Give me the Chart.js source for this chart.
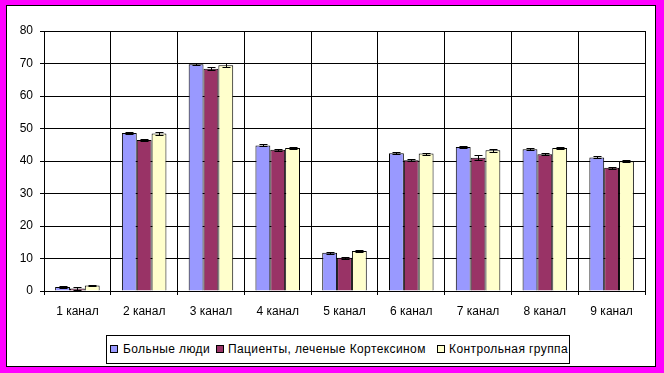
<!DOCTYPE html>
<html>
<head>
<meta charset="utf-8">
<script src="https://cdn.jsdelivr.net/npm/chart.js@4"></script>
<style>
  html, body { margin: 0; padding: 0; width: 664px; height: 373px; overflow: hidden; background: #FF00FF; }
  #panel { position: absolute; left: 6px; top: 5px; width: 650px; height: 362px; box-sizing: border-box; border: 1px solid #000; background: #fff; }
  #c { position: absolute; left: 0; top: 0; }
  #legend { position: absolute; left: 106px; top: 335px; width: 464px; height: 29px; box-sizing: border-box; border: 1px solid #000; background: #fff;
            font-family: "Liberation Sans", Arial, sans-serif; font-size: 12px; color: #000; white-space: nowrap; }
  .sw { position: absolute; top: 9px; width: 6px; height: 6px; border: 1px solid #000; }
  .tx { position: absolute; top: 5px; line-height: 16px; letter-spacing: 0.4px; }
</style>
</head>
<body>
<div id="panel"></div>
<canvas id="c" width="664" height="373"></canvas>
<div id="legend"></div>
<script>
const categories = ['1 канал', '2 канал', '3 канал', '4 канал', '5 канал', '6 канал', '7 канал', '8 канал', '9 канал'];
const seriesNames = ['Больные люди', 'Пациенты, леченые Кортексином', 'Контрольная группа'];
const sick    = [1.2, 48.6, 69.8, 44.8, 11.8, 42.4, 44.3, 43.6, 41.1];
const treated = [0.8, 46.5, 68.4, 43.5, 10.2, 40.2, 41.0, 42.1, 37.9];
const control = [1.7, 48.5, 69.5, 44.0, 12.3, 42.3, 43.3, 44.0, 39.9];
const sickErr    = [0.2, 0.3, 0.3, 0.3, 0.3, 0.3, 0.3, 0.3, 0.3];
const treatedErr = [0.4, 0.3, 0.4, 0.3, 0.3, 0.3, 0.7, 0.4, 0.3];
const controlErr = [0.2, 0.4, 0.6, 0.3, 0.4, 0.3, 0.4, 0.4, 0.3];
const yTicks = [0, 10, 20, 30, 40, 50, 60, 70, 80];
const colors = ['#9999FF', '#993366', '#FFFFCC'];

const errs = [sickErr, treatedErr, controlErr];
const FONT = { family: '"Liberation Sans", Arial, sans-serif', size: 12 };

const errorBars = {
  id: 'errorBars',
  afterDatasetsDraw(chart) {
    const ctx = chart.ctx;
    const ys = chart.scales.y;
    ctx.save();
    ctx.strokeStyle = '#000';
    ctx.lineWidth = 1;
    chart.data.datasets.forEach((ds, di) => {
      const meta = chart.getDatasetMeta(di);
      meta.data.forEach((el, i) => {
        const v = ds.data[i], e = errs[di][i];
        const x = Math.round(el.x) + 0.5;
        const y1 = Math.round(ys.getPixelForValue(v + e)) + 0.5;
        const y2 = Math.round(ys.getPixelForValue(v - e)) + 0.5;
        ctx.beginPath();
        ctx.moveTo(x, y1); ctx.lineTo(x, y2);
        ctx.moveTo(x - 4, y1); ctx.lineTo(x + 4, y1);
        ctx.moveTo(x - 4, y2); ctx.lineTo(x + 4, y2);
        ctx.stroke();
      });
    });
    ctx.restore();
  }
};

new Chart(document.getElementById('c'), {
  type: 'bar',
  data: {
    labels: categories,
    datasets: [sick, treated, control].map((d, i) => ({
      label: seriesNames[i],
      data: d,
      backgroundColor: colors[i],
      borderColor: '#000',
      borderWidth: 1,
      categoryPercentage: 0.667,
      barPercentage: 1.0
    }))
  },
  options: {
    responsive: false,
    animation: false,
    events: [],
    layout: { padding: { top: 31, right: 19, left: 0, bottom: 0 } },
    plugins: { legend: { display: false }, tooltip: { enabled: false } },
    scales: {
      x: {
        offset: true,
        grid: { offset: true, color: '#000', lineWidth: 1, tickLength: 4, drawTicks: true },
        border: { color: '#000' },
        ticks: { color: '#000', font: FONT, padding: 9, maxRotation: 0 },
        afterFit(s) { s.height = 82; }
      },
      y: {
        min: 0, max: 80,
        afterBuildTicks(s) { s.ticks = yTicks.map(v => ({ value: v })); },
        grid: { color: '#000', lineWidth: 1, tickLength: 4 },
        border: { color: '#000' },
        ticks: { color: '#000', font: FONT, padding: 7 },
        afterFit(s) { s.width = 44; }
      }
    }
  },
  plugins: [errorBars]
});

const lg = document.getElementById('legend');
const swX = [3, 109, 330];
const txX = [16, 121, 342];
seriesNames.forEach((n, i) => {
  const sw = document.createElement('span');
  sw.className = 'sw';
  sw.style.left = swX[i] + 'px';
  sw.style.background = colors[i];
  lg.appendChild(sw);
  const tx = document.createElement('span');
  tx.className = 'tx';
  tx.style.left = txX[i] + 'px';
  tx.textContent = n;
  lg.appendChild(tx);
});
</script>
</body>
</html>
